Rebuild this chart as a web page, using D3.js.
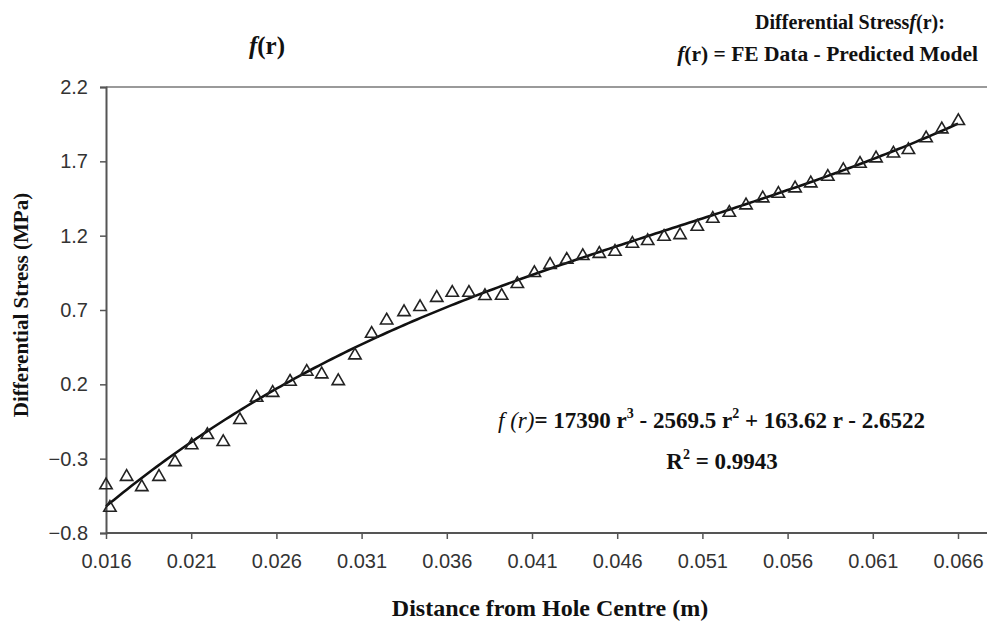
<!DOCTYPE html>
<html>
<head>
<meta charset="utf-8">
<script src="https://cdn.jsdelivr.net/npm/d3@7"></script>
<style>
  body { margin: 0; background: #fff; }
  svg { display: block; }
  .tick text { font-family: "Liberation Sans", Arial, sans-serif; font-size: 20px; fill: #333; }
  .serif { font-family: "Liberation Serif", "Times New Roman", serif; fill: #111; }
</style>
</head>
<body>
<svg id="chart" width="987" height="622"></svg>
<script>
// distance from hole centre (m)
const radius = [
  0.0160, 0.01623, 0.01721, 0.01810, 0.01911, 0.02005, 0.02103, 0.02195, 0.02288, 0.02386,
  0.02484, 0.02578, 0.02680, 0.02778, 0.02866, 0.02963, 0.03061, 0.03159, 0.03247, 0.03349,
  0.03443, 0.03541, 0.03632, 0.03730, 0.03824, 0.03922, 0.04014, 0.04114, 0.04206, 0.04304,
  0.04398, 0.04495, 0.04587, 0.04689, 0.04779, 0.04875, 0.04969, 0.05070, 0.05161, 0.05258,
  0.05356, 0.05454, 0.05546, 0.05644, 0.05736, 0.05836, 0.05927, 0.06025, 0.06119, 0.06221,
  0.06309, 0.06413, 0.06505, 0.06602
]
// differential stress f(r) (MPa)
const stress = [
  -0.472, -0.623, -0.415, -0.484, -0.415, -0.316, -0.203, -0.134, -0.181, -0.033,
  0.117, 0.150, 0.225, 0.292, 0.274, 0.229, 0.402, 0.547, 0.637, 0.693,
  0.727, 0.789, 0.823, 0.823, 0.801, 0.803, 0.882, 0.956, 1.011, 1.045,
  1.070, 1.085, 1.099, 1.153, 1.171, 1.200, 1.211, 1.267, 1.321, 1.361,
  1.411, 1.458, 1.489, 1.525, 1.559, 1.603, 1.648, 1.691, 1.727, 1.760,
  1.783, 1.862, 1.922, 1.978
]
// trendline f(r) = a r^3 + b r^2 + c r + d
const fitCoef = [17390, -2569.5, 163.62, -2.6522]
const xTicks = [0.016, 0.021, 0.026, 0.031, 0.036, 0.041, 0.046, 0.051, 0.056, 0.061, 0.066]
const yTicks = [-0.8, -0.3, 0.2, 0.7, 1.2, 1.7, 2.2]

const svg = d3.select('#chart')
const x = d3.scaleLinear().domain([0.016, 0.066]).range([106, 958])
const y = d3.scaleLinear().domain([-0.8, 2.2]).range([533, 87])
const plotRight = 987

// top border of plot area
svg.append('line')
  .attr('x1', x(0.016)).attr('x2', plotRight)
  .attr('y1', y(2.2)).attr('y2', y(2.2))
  .attr('stroke', '#9a9a9a').attr('stroke-width', 2)

// axes
const xAxis = svg.append('g')
  .attr('transform', `translate(0,${y(-0.8)})`)
  .call(d3.axisBottom(x).tickValues(xTicks).tickFormat(d3.format('.3f')).tickSizeOuter(0).tickSize(6).tickPadding(15))
xAxis.select('.domain').remove()
xAxis.append('line')
  .attr('x1', x(0.016)).attr('x2', plotRight)
  .attr('stroke', '#555').attr('stroke-width', 2)
xAxis.selectAll('.tick line').attr('stroke', '#555').attr('stroke-width', 1.5)

const yAxis = svg.append('g')
  .attr('transform', `translate(${x(0.016)},0)`)
  .call(d3.axisLeft(y).tickValues(yTicks).tickFormat(d => d3.format('.1f')(d)).tickSizeOuter(0).tickSize(6).tickPadding(12))
yAxis.select('.domain').attr('stroke', '#555').attr('stroke-width', 2)
yAxis.selectAll('.tick line').attr('stroke', '#555').attr('stroke-width', 1.5)

// trendline from fitted polynomial
const poly = r => fitCoef[0] * r ** 3 + fitCoef[1] * r ** 2 + fitCoef[2] * r + fitCoef[3]
const rSamples = d3.range(0, 201).map(i => 0.016 + i * 0.05 / 200)
svg.append('path')
  .datum(rSamples)
  .attr('fill', 'none')
  .attr('stroke', '#111')
  .attr('stroke-width', 2.6)
  .attr('d', d3.line().x(r => x(r)).y(r => y(poly(r))))

// FE data points (open triangles)
const tri = d3.symbol().type(d3.symbolTriangle).size(66)
svg.append('g').selectAll('path')
  .data(radius.map((r, i) => [r, stress[i]]))
  .join('path')
  .attr('d', tri)
  .attr('transform', d => `translate(${x(d[0])},${y(d[1]) + 1})`)
  .attr('fill', 'none')
  .attr('stroke', '#222')
  .attr('stroke-width', 1.6)

// titles
const title = svg.append('text').attr('class', 'serif')
  .attr('x', 267).attr('y', 54).attr('text-anchor', 'middle')
  .attr('font-size', 25).attr('font-weight', 'bold')
title.append('tspan').attr('font-style', 'italic').text('f')
title.append('tspan').text('(r)')

const note1 = svg.append('text').attr('class', 'serif')
  .attr('x', 850).attr('y', 29).attr('text-anchor', 'middle')
  .attr('font-size', 20).attr('font-weight', 'bold')
note1.append('tspan').text('Differential Stress')
note1.append('tspan').attr('font-style', 'italic').text('f')
note1.append('tspan').text('(r):')

const note2 = svg.append('text').attr('class', 'serif')
  .attr('x', 978).attr('y', 61).attr('text-anchor', 'end')
  .attr('font-size', 21.5).attr('font-weight', 'bold')
note2.append('tspan').attr('font-style', 'italic').text('f')
note2.append('tspan').text('(r) = FE Data - Predicted Model')

svg.append('text').attr('class', 'serif')
  .attr('x', 550).attr('y', 616).attr('text-anchor', 'middle')
  .attr('font-size', 24).attr('font-weight', 'bold')
  .text('Distance from Hole Centre (m)')

svg.append('text').attr('class', 'serif')
  .attr('transform', 'translate(28,305) rotate(-90)')
  .attr('text-anchor', 'middle')
  .attr('font-size', 21).attr('font-weight', 'bold')
  .text('Differential Stress (MPa)')

// trendline equation
const eq = svg.append('text').attr('class', 'serif')
  .attr('x', 498).attr('y', 428)
  .attr('font-size', 23).attr('font-weight', 'bold')
eq.append('tspan').attr('font-style', 'italic').attr('font-weight', 'normal').text('f  (r)')
eq.append('tspan').text('= 17390 r')
eq.append('tspan').attr('font-size', 14).attr('dy', -10).text('3')
eq.append('tspan').attr('dy', 10).text(' - 2569.5 r')
eq.append('tspan').attr('font-size', 14).attr('dy', -10).text('2')
eq.append('tspan').attr('dy', 10).text(' + 163.62 r - 2.6522')

const r2 = svg.append('text').attr('class', 'serif')
  .attr('x', 722).attr('y', 469).attr('text-anchor', 'middle')
  .attr('font-size', 23).attr('font-weight', 'bold')
r2.append('tspan').text('R')
r2.append('tspan').attr('font-size', 14).attr('dy', -10).text('2')
r2.append('tspan').attr('dy', 10).text(' = 0.9943')
</script>
</body>
</html>
